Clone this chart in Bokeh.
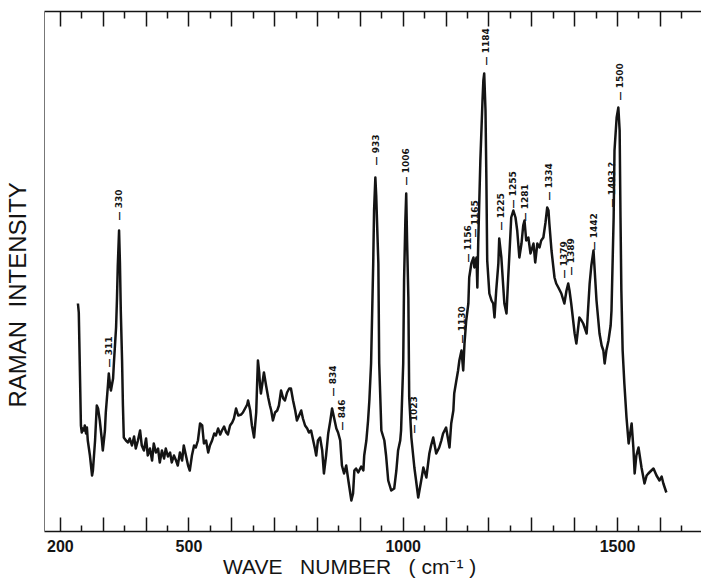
import math
from bokeh.plotting import figure
from bokeh.models import LinearAxis, FixedTicker, Range1d, CustomLabelingPolicy
from bokeh.embed import file_html
from bokeh.resources import INLINE
from bokeh.core.properties import value

# Raman spectrum (wave number in cm^-1, intensity in arbitrary units)
wavenumber = [
    241, 243, 246, 248, 250, 252, 255, 257, 260, 262, 264, 269, 274, 276, 281, 285, 288, 292, 297, 299,
    304, 306, 311, 313, 316, 318, 323, 325, 330, 332, 334, 337, 339, 341, 344, 346, 348, 353, 358, 362,
    367, 372, 376, 381, 386, 390, 395, 400, 404, 409, 414, 418, 423, 428, 432, 437, 442, 446, 451, 456,
    460, 465, 470, 474, 479, 484, 488, 493, 498, 502, 507, 512, 516, 521, 526,
    531, 535, 540, 545, 549, 554, 559, 563, 568, 573, 577, 582, 587, 591, 596, 601, 605, 610, 615, 622,
    626, 631, 636, 638, 643, 647, 652, 657, 659, 661, 664, 666, 668, 673, 675, 680, 685, 689, 692, 696,
    701, 706, 710, 715, 720, 724, 729, 734, 738, 743, 748, 752, 757, 762, 766, 771, 776, 780, 785, 790,
    794, 797, 801, 806, 811, 815, 820, 825, 830, 834, 839, 844, 848, 853, 857, 862, 867, 872, 879, 883,
    886, 890, 895, 902, 907, 909, 914, 918, 921, 925, 930, 932, 935, 937, 942, 944, 949, 956, 960, 965,
    972, 979, 984, 988, 993, 995, 1000, 1002, 1005, 1007, 1009, 1012, 1014, 1019, 1026, 1030, 1035, 1042, 1047, 1054,
    1061, 1065, 1070, 1077, 1084, 1089, 1093, 1100, 1108, 1112, 1117, 1119, 1124, 1128, 1131, 1136, 1140, 1143, 1147, 1152,
    1154, 1159, 1164, 1166, 1171, 1173, 1175, 1180, 1185, 1187, 1189, 1192, 1194, 1196, 1201, 1206, 1210, 1213, 1217, 1222,
    1224, 1229, 1234, 1236, 1241, 1245, 1250, 1252, 1257, 1262, 1266, 1271, 1276, 1280, 1283, 1287, 1292, 1297, 1304, 1308,
    1313, 1318, 1322, 1327, 1332, 1336, 1339, 1341, 1346, 1353, 1357, 1362, 1369, 1376, 1381, 1385, 1388, 1392, 1400, 1404,
    1411, 1416, 1420, 1428, 1435, 1439, 1444, 1451, 1458, 1463, 1467, 1470, 1474, 1479, 1484, 1486, 1491, 1493, 1498, 1502,
    1505, 1507, 1509, 1512, 1516, 1521, 1526, 1533, 1537, 1540, 1544, 1549, 1556, 1563, 1568, 1572, 1579, 1584, 1591, 1598,
    1603, 1607, 1614,
]
intensity = [
    228, 219, 151, 106, 99, 103, 101, 106, 98, 104, 91, 76, 56, 61, 91, 126, 123, 111, 91, 81,
    101, 119, 146, 158, 146, 141, 153, 169, 204, 231, 266, 301, 269, 221, 171, 126, 94, 91, 89, 93,
    86, 95, 83, 91, 101, 86, 81, 93, 76, 83, 71, 88, 79, 83, 69, 81, 73, 83, 75, 79,
    69, 76, 71, 66, 79, 71, 86, 76, 66, 61, 76, 86, 84, 91, 108,
    106, 88, 91, 79, 86, 91, 98, 96, 103, 97, 101, 105, 99, 97, 106, 109, 113, 123, 116, 117,
    119, 123, 127, 131, 121, 106, 94, 119, 146, 171, 159, 146, 138, 153, 159, 146, 134, 126, 121, 111,
    119, 121, 126, 141, 133, 131, 139, 143, 143, 131, 121, 111, 116, 121, 113, 106, 103, 99, 101, 91,
    83, 76, 91, 94, 81, 58, 76, 98, 111, 123, 113, 103, 99, 91, 66, 58, 66, 51, 31, 38,
    61, 63, 59, 65, 61, 76, 91, 111, 131, 168, 268, 321, 354, 336, 268, 168, 101, 91, 76, 51,
    41, 43, 61, 81, 91, 101, 168, 251, 311, 338, 291, 234, 134, 94, 64, 51, 34, 51, 64, 54,
    78, 86, 94, 78, 84, 91, 98, 104, 84, 108, 121, 138, 151, 161, 171, 181, 161, 188, 211, 228,
    254, 268, 274, 264, 274, 244, 288, 371, 431, 451, 458, 421, 354, 271, 238, 231, 228, 214, 241, 268,
    293, 274, 241, 228, 218, 254, 296, 314, 321, 314, 301, 274, 288, 306, 311, 291, 294, 278, 288, 269,
    288, 284, 291, 294, 309, 324, 321, 308, 281, 254, 248, 244, 238, 228, 241, 248, 241, 228, 198, 188,
    214, 211, 208, 198, 248, 266, 281, 231, 198, 186, 181, 168, 181, 191, 206, 221, 314, 381, 414, 424,
    401, 314, 241, 181, 148, 114, 88, 108, 84, 58, 76, 84, 64, 48, 56, 58, 61, 63, 56, 51,
    55, 48, 39,
]

# Peak annotations: text, and where each annotation stands in the picture
peak_text = ["311", "330", "834", "846", "933", "1006", "1023", "1130", "1156", "1165",
             "1184", "1225", "1255", "1281", "1334", "1379", "1389", "1442", "1493 ?", "1500"]
peak_x = [313, 337, 835, 858, 936, 1007, 1026, 1136, 1150, 1168,
          1192, 1227, 1257, 1285, 1339, 1376, 1392, 1446, 1488, 1505]
peak_y = [164, 311, 135, 101, 366, 346, 98, 188, 269, 294,
          466, 301, 323, 310, 331, 253, 256, 281, 324, 431]

major_ticks = [200, 300, 400, 500, 600, 700, 800, 900, 1000, 1100, 1200, 1300, 1400, 1500, 1600]
minor_ticks = [250, 350, 450, 550, 650, 750, 850, 950, 1050, 1150, 1250, 1350, 1450, 1550, 1650]
labelled_ticks = [200, 500, 1000, 1500]

NB = "\u00a0"
x_title = "WAVE" + NB * 3 + "NUMBER" + NB * 3 + "(" + NB + "cm\u207b\u00b9" + NB + ")"
y_title = "RAMAN" + NB * 2 + "INTENSITY"

INK = "#141414"

p = figure(width=701, height=581, x_range=Range1d(163, 1696), y_range=Range1d(0, 520),
           output_backend="svg", toolbar_location=None,
           x_axis_location=None, y_axis_location=None,
           min_border_left=43, min_border_right=0, min_border_top=11, min_border_bottom=50)
p.outline_line_color = None
p.background_fill_color = "white"
p.border_fill_color = "white"
p.xgrid.grid_line_color = None
p.ygrid.grid_line_color = None

keep_code = ("for (let i = 0; i < indices.size; i++) { if (!keep[i]) indices.unset(i) }\n"
             "return indices")

xb = LinearAxis(ticker=FixedTicker(ticks=major_ticks, minor_ticks=minor_ticks),
                major_label_overrides={t: str(t) for t in major_ticks},
                major_label_policy=CustomLabelingPolicy(
                    args=dict(keep=[t in labelled_ticks for t in major_ticks]), code=keep_code))
xb.major_tick_in = 14
xb.major_tick_out = 0
xb.minor_tick_in = 6
xb.minor_tick_out = 0
xb.axis_line_width = 1.6
xb.axis_line_color = INK
xb.major_tick_line_width = 1.5
xb.major_tick_line_color = INK
xb.minor_tick_line_width = 1.5
xb.minor_tick_line_color = INK
xb.major_label_text_font = "Liberation Sans"
xb.major_label_text_font_size = "16px"
xb.major_label_text_font_style = "bold"
xb.major_label_text_color = INK
xb.major_label_standoff = 8
xb.axis_label = x_title + NB * 8
xb.axis_label_text_font = "Liberation Sans"
xb.axis_label_text_font_size = "21px"
xb.axis_label_text_font_style = "normal"
xb.axis_label_text_color = INK
xb.axis_label_standoff = 0
p.add_layout(xb, "below")

xt = LinearAxis(ticker=FixedTicker(ticks=major_ticks, minor_ticks=minor_ticks),
                major_label_policy=CustomLabelingPolicy(
                    args=dict(keep=[False for t in major_ticks]), code=keep_code))
xt.major_tick_in = 15
xt.major_tick_out = 0
xt.minor_tick_in = 7
xt.minor_tick_out = 0
xt.axis_line_width = 1.6
xt.axis_line_color = INK
xt.major_tick_line_width = 1.5
xt.major_tick_line_color = INK
xt.minor_tick_line_width = 1.5
xt.minor_tick_line_color = INK
xt.major_label_standoff = 0
p.add_layout(xt, "above")

yl = LinearAxis(ticker=FixedTicker(ticks=[]))
yl.major_tick_in = 0
yl.major_tick_out = 0
yl.minor_tick_in = 0
yl.minor_tick_out = 0
yl.axis_line_width = 1
yl.axis_line_color = "#777777"
yl.major_label_standoff = 0
yl.axis_label = y_title + NB * 7
yl.axis_label_text_font = "Liberation Sans"
yl.axis_label_text_font_size = "24px"
yl.axis_label_text_font_style = "normal"
yl.axis_label_text_color = INK
yl.axis_label_standoff = 14
p.add_layout(yl, "left")

p.line(wavenumber, intensity, line_color=INK, line_width=2.5, line_join="round")

p.text(x=peak_x, y=peak_y, text=["\u2014 " + t for t in peak_text], angle=math.pi / 2,
       text_align="left", text_baseline="middle", text_font=value("DejaVu Sans"),
       text_font_size="9px", text_font_style="bold", text_color=INK)

open("out.html", "w").write(file_html(p, INLINE))
